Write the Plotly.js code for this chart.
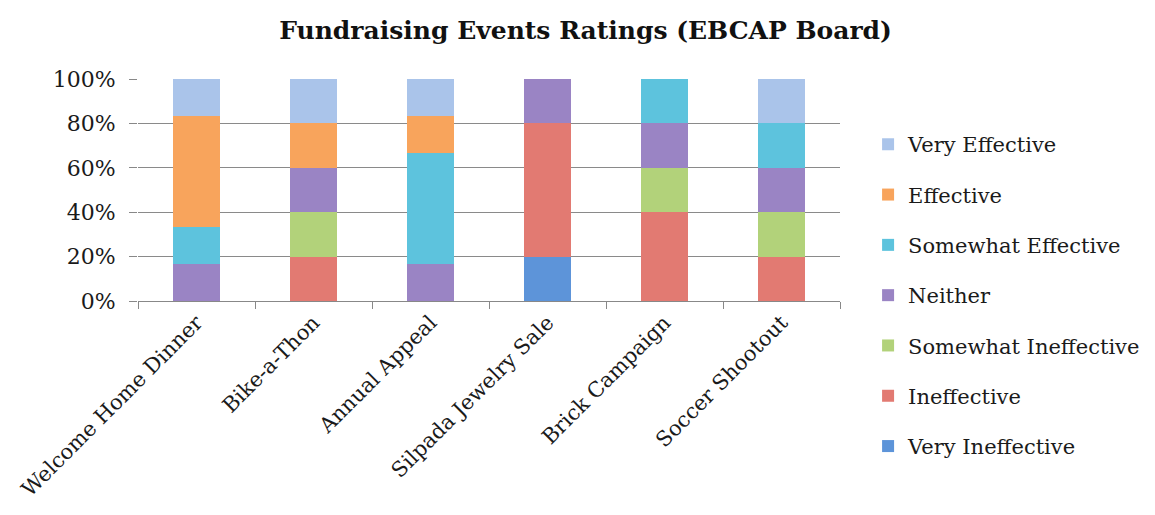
<!DOCTYPE html>
<html>
<head>
<meta charset="utf-8">
<script src="https://cdn.plot.ly/plotly-3.0.1.min.js"></script>
<style>html,body{margin:0;padding:0;background:#fff}#chart{width:1155px;height:515px}</style>
</head>
<body>
<div id="chart"></div>
<script>
// Categories (events)
const categories = ["Welcome Home Dinner", "Bike-a-Thon", "Annual Appeal", "Silpada Jewelry Sale", "Brick Campaign", "Soccer Shootout"];

// Response counts per rating (bars are normalised to 100%)
const veryIneffective     = [0, 0, 0, 1, 0, 0];
const ineffective         = [0, 1, 0, 3, 2, 1];
const somewhatIneffective = [0, 1, 0, 0, 1, 1];
const neither             = [1, 1, 1, 1, 1, 1];
const somewhatEffective   = [1, 0, 3, 0, 1, 1];
const effective           = [3, 1, 1, 0, 0, 0];
const veryEffective       = [1, 1, 1, 0, 0, 1];

const seriesNames = ["Very Ineffective", "Ineffective", "Somewhat Ineffective", "Neither", "Somewhat Effective", "Effective", "Very Effective"];
const seriesValues = [veryIneffective, ineffective, somewhatIneffective, neither, somewhatEffective, effective, veryEffective];
const seriesColors = ["#5d94d9", "#e27a72", "#b2d27a", "#9a84c4", "#5dc3dd", "#f8a45c", "#aac4ea"];

const yTickVals = [0, 20, 40, 60, 80, 100];
const yTickText = ["0%", "20%", "40%", "60%", "80%", "100%"];

const FONT = "DejaVu Serif, Liberation Serif, serif";

const traces = seriesNames.map((name, i) => ({
  type: "bar",
  name: name,
  x: categories,
  y: seriesValues[i],
  legendgroup: name,
  legendrank: seriesNames.length - i,
  marker: {color: seriesColors[i], line: {width: 0}},
  hoverinfo: "x+name"
}));

const layout = {
  width: 1155,
  height: 515,
  paper_bgcolor: "#ffffff",
  plot_bgcolor: "#ffffff",
  barmode: "stack",
  barnorm: "percent",
  bargap: 0.6,
  margin: {l: 138, r: 315, t: 79, b: 214, pad: 0, autoexpand: false},
  font: {family: FONT, size: 21, color: "#1a1a1a"},
  title: {
    text: "<b>Fundraising Events Ratings (EBCAP Board)</b>",
    font: {family: FONT, size: 25, color: "#111"},
    x: 0.507, xref: "container", xanchor: "center",
    y: 0.942, yref: "container", yanchor: "middle"
  },
  xaxis: {
    type: "category",
    automargin: false,
    tickangle: -45,
    tickson: "boundaries",
    ticks: "outside",
    ticklen: 7,
    tickcolor: "#888",
    showline: true,
    linecolor: "#888",
    linewidth: 1,
    showgrid: false,
    tickfont: {family: FONT, size: 21, color: "#1a1a1a"}
  },
  yaxis: {
    automargin: false,
    range: [0, 100],
    tickvals: yTickVals,
    ticktext: yTickText,
    ticks: "outside",
    ticklen: 8,
    tickcolor: "#888",
    ticklabelstandoff: 9,
    showgrid: true,
    gridcolor: "#8a8a8a",
    gridwidth: 1,
    showline: false,
    zeroline: false,
    tickfont: {family: FONT, size: 22, color: "#1a1a1a"}
  },
  legend: {
    x: 1.04, xanchor: "left",
    yref: "container",
    y: 0.426, yanchor: "middle",
    traceorder: "grouped",
    tracegroupgap: 20,
    maxheight: 500,
    font: {family: FONT, size: 21, color: "#1a1a1a"},
    itemwidth: 30,
    bgcolor: "rgba(0,0,0,0)"
  },
  showlegend: true
};

Plotly.newPlot("chart", traces, layout, {displayModeBar: false, staticPlot: true});
</script>
</body>
</html>
